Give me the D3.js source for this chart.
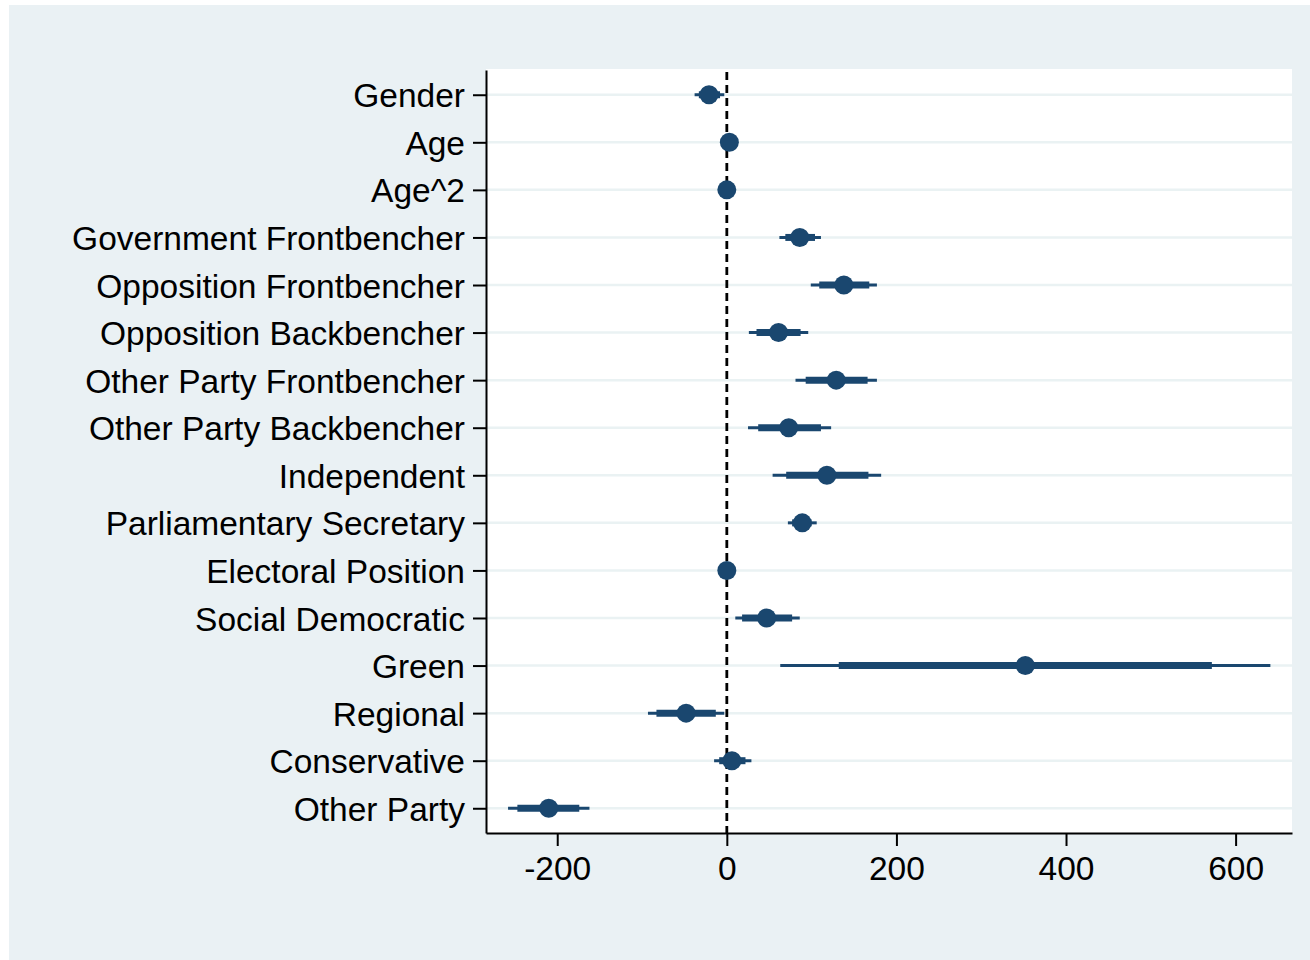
<!DOCTYPE html>
<html>
<head>
<meta charset="utf-8">
<script src="https://cdn.jsdelivr.net/npm/d3@7"></script>
<style>
  body { margin: 0; background: #ffffff; }
  svg { display: block; }
  .tick text { font-family: "Liberation Sans", Arial, sans-serif; fill: #000; }
</style>
</head>
<body>
<script>
"use strict";

// coefficient plot: point estimate, inner (thick) and outer (thin) intervals
const labels = [
    "Gender", "Age", "Age^2", "Government Frontbencher", "Opposition Frontbencher",
    "Opposition Backbencher", "Other Party Frontbencher", "Other Party Backbencher",
    "Independent", "Parliamentary Secretary", "Electoral Position", "Social Democratic",
    "Green", "Regional", "Conservative", "Other Party"
]
const estimates = [-21, 3, 0, 86, 138, 61, 129, 73, 118, 89, 0, 47, 352, -48, 6, -210]
const outerLow  = [-38, 1, -1, 62, 99, 26, 81, 25, 54, 72, -1, 10, 63, -93, -15, -258]
const outerHigh = [-3, 5, 1, 111, 177, 96, 177, 123, 182, 106, 1, 86, 641, -3, 29, -162]
const innerLow  = [-33, 2, -0.5, 69, 109, 35, 93, 37, 70, 77, -0.5, 18, 132, -83, -9, -247]
const innerHigh = [-8, 4, 0.5, 104, 168, 87, 166, 111, 167, 100, 0.5, 77, 572, -13, 22, -174]
const xTicks = [-200, 0, 200, 400, 600]

const measurements = {
    width: 1310,
    height: 960,
    left: 486,
    right: 1292,
    top: 70,
    bottom: 833
}
const navy = "#1a476f"

const rows = labels.map((l, i) => ({
    label: l,
    est: estimates[i],
    lo: outerLow[i], hi: outerHigh[i],
    ilo: innerLow[i], ihi: innerHigh[i]
}))

const svg = d3.select("body").append("svg")
    .attr("width", measurements.width)
    .attr("height", measurements.height)

// outer background
svg.append("rect")
    .attr("x", 9).attr("y", 5)
    .attr("width", measurements.width - 9)
    .attr("height", measurements.height - 5)
    .attr("fill", "#eaf1f4")

// plot region
svg.append("rect")
    .attr("x", measurements.left).attr("y", measurements.top - 1)
    .attr("width", measurements.right - measurements.left)
    .attr("height", measurements.bottom - measurements.top + 1)
    .attr("fill", "#ffffff")

const scaleX = d3.scaleLinear()
    .domain([-284, 666.5])
    .range([measurements.left, measurements.right])

const scaleY = d3.scalePoint()
    .domain(labels)
    .range([measurements.top, measurements.bottom])
    .padding(0.52)

// horizontal grid lines
svg.append("g").selectAll("line")
    .data(labels)
    .enter()
    .append("line")
        .attr("x1", measurements.left + 1)
        .attr("x2", measurements.right)
        .attr("y1", d => scaleY(d))
        .attr("y2", d => scaleY(d))
        .attr("stroke", "#eaf2f3")
        .attr("stroke-width", 2.5)

// reference line at zero
svg.append("line")
    .attr("x1", scaleX(0)).attr("x2", scaleX(0))
    .attr("y1", measurements.top + 2).attr("y2", measurements.bottom)
    .attr("stroke", "#000")
    .attr("stroke-width", 2.8)
    .attr("stroke-dasharray", "8,5")

// axes
const yAxis = d3.axisLeft(scaleY).tickSize(13).tickSizeOuter(0).tickPadding(8)
const gy = svg.append("g")
    .attr("transform", "translate(" + measurements.left + ",0)")
    .call(yAxis)
gy.selectAll("text").style("font-size", "33.5px").attr("dy", "0.36em")

const xAxis = d3.axisBottom(scaleX).tickValues(xTicks).tickSize(13).tickSizeOuter(0).tickPadding(10)
    .tickFormat(d => d)
const gx = svg.append("g")
    .attr("transform", "translate(0," + measurements.bottom + ")")
    .call(xAxis)
gx.selectAll("text").style("font-size", "33.5px").attr("dy", "0.71em")

svg.selectAll(".domain, .tick line").attr("stroke", "#000").attr("stroke-width", 2)

// intervals and points
const marks = svg.append("g")

marks.selectAll(".outer")
    .data(rows)
    .enter()
    .append("line")
        .attr("x1", d => scaleX(d.lo))
        .attr("x2", d => scaleX(d.hi))
        .attr("y1", d => scaleY(d.label))
        .attr("y2", d => scaleY(d.label))
        .attr("stroke", navy)
        .attr("stroke-width", 3)

marks.selectAll(".inner")
    .data(rows)
    .enter()
    .append("line")
        .attr("x1", d => scaleX(d.ilo))
        .attr("x2", d => scaleX(d.ihi))
        .attr("y1", d => scaleY(d.label))
        .attr("y2", d => scaleY(d.label))
        .attr("stroke", navy)
        .attr("stroke-width", 7)

marks.selectAll("circle")
    .data(rows)
    .enter()
    .append("circle")
        .attr("cx", d => scaleX(d.est))
        .attr("cy", d => scaleY(d.label))
        .attr("r", 9.5)
        .attr("fill", navy)
</script>
</body>
</html>
